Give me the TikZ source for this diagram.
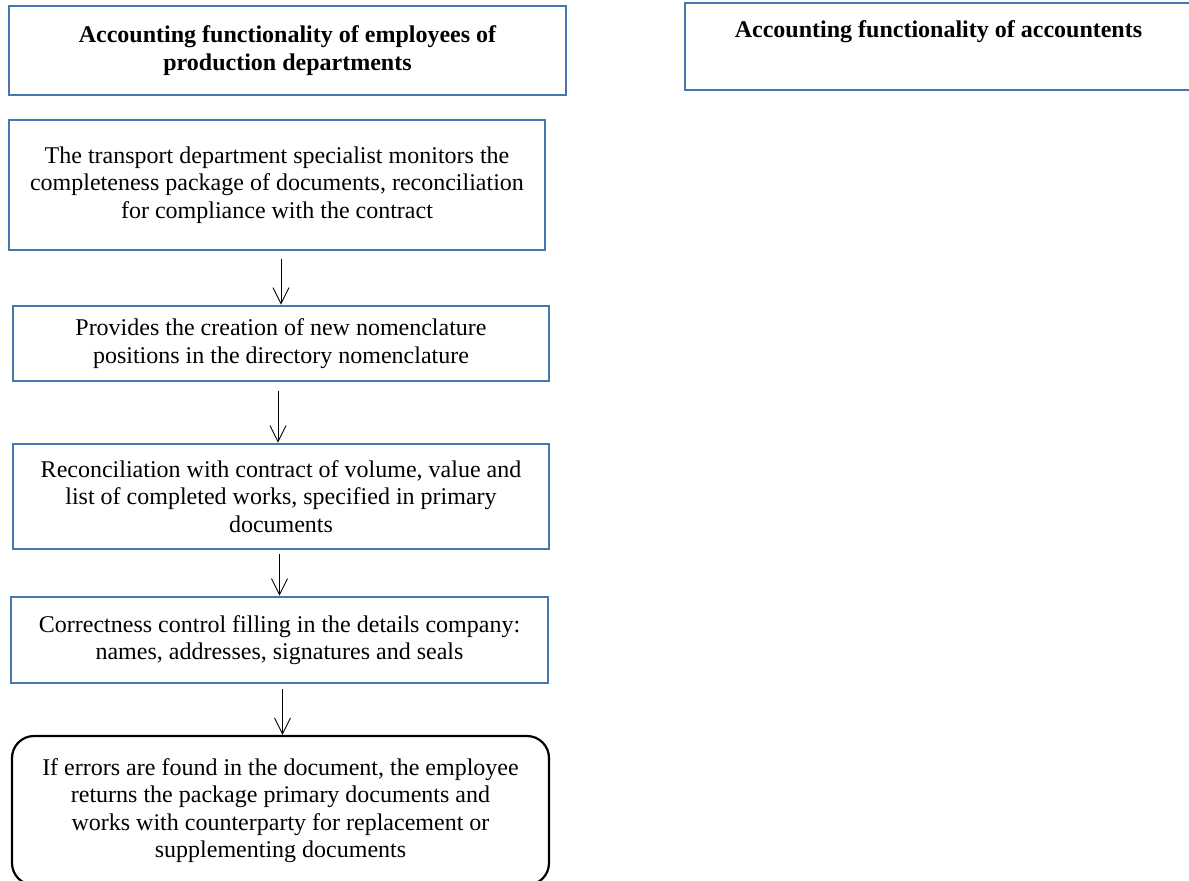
\documentclass[tikz,border=0pt]{standalone}
\usepackage{fontspec}
\setmainfont{Liberation Serif}
\usetikzlibrary{arrows.meta}
\definecolor{boxblue}{RGB}{72,118,176}

\begin{document}
\begin{tikzpicture}[x=1pt, y=-1pt,
    box/.style={draw=boxblue, line width=2.8pt, rectangle, align=center, inner sep=0pt,
        font=\fontsize{24}{27.5}\selectfont},
    headbox/.style={box, font=\bfseries\fontsize{24}{27.5}\selectfont},
    endbox/.style={box, draw=black, line width=2.2pt, rounded corners=22pt},
    arr/.style={-{Straight Barb[length=16pt,width=16pt]}, line width=0.9pt}]
        \useasboundingbox (0,0) rectangle (1189,881);

        % nadpisy
        \node[headbox, minimum width=557, minimum height=89] (empl) at (287.5,50.5)
            {Accounting functionality of employees of\\production departments};
        \node[headbox, minimum width=507, minimum height=87, text height=17pt, text depth=36pt]
            (acc) at (938.5,46.5) {Accounting functionality of accountents};

        % kroky
        \node[box, minimum width=536, minimum height=130] (check) at (277,185)
            {The transport department specialist monitors the\\
             completeness package of documents, reconciliation\\
             for compliance with the contract};
        \node[box, minimum width=536, minimum height=75] (nomen) at (281,343.5)
            {Provides the creation of new nomenclature\\
             positions in the directory nomenclature};
        \node[box, minimum width=536, minimum height=105] (recon) at (281,496.5)
            {Reconciliation with contract of volume, value and\\
             list of completed works, specified in primary\\
             documents};
        \node[box, minimum width=537, minimum height=86] (detail) at (279.5,640)
            {Correctness control filling in the details company:\\
             names, addresses, signatures and seals};
        \node[endbox, minimum width=537, minimum height=149] (errors) at (280.5,810.5)
            {If errors are found in the document, the employee\\
             returns the package primary documents and\\
             works with counterparty for replacement or\\
             supplementing documents};

        % sipky
        \draw[arr] (check.south -| nomen.north) ++(0,8) -- (nomen.north);
        \draw[arr] (nomen.south -| recon.north) ++(-3,9) -- ([xshift=-3pt]recon.north);
        \draw[arr] (recon.south -| detail.north) ++(0,4) -- (detail.north);
        \draw[arr] (detail.south -| errors.north) ++(2,5) -- ([xshift=2pt]errors.north);

    \end{tikzpicture}
\end{document}
